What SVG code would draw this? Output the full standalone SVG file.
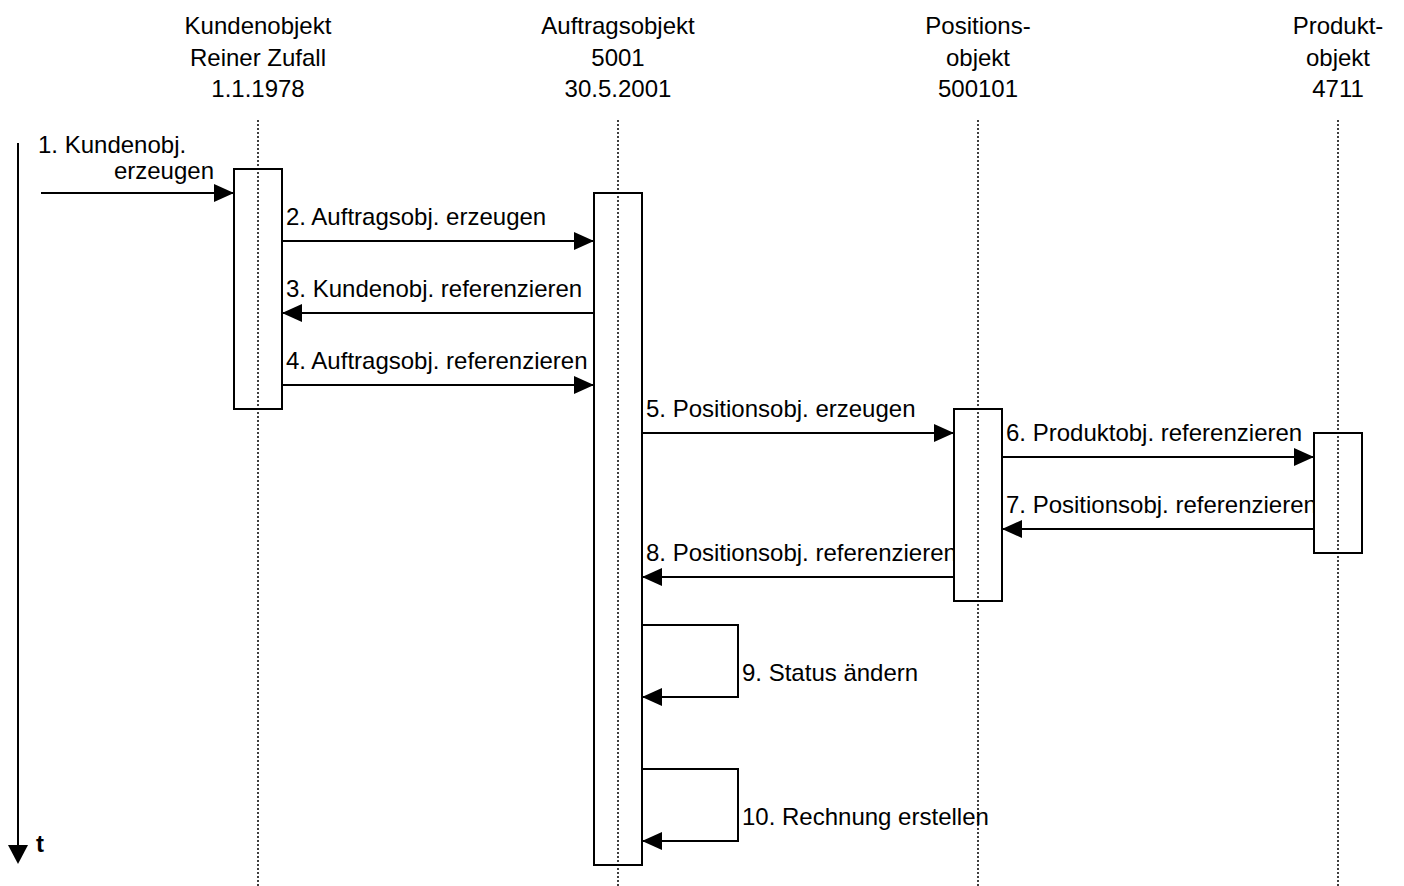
<svg xmlns="http://www.w3.org/2000/svg" width="1404" height="886" viewBox="0 0 1404 886">
  <style>
    .hdr { font-family: "Liberation Sans", Arial, sans-serif; font-size: 24px; fill: #000; text-anchor: middle; }
    .lbl { font-family: "Liberation Sans", Arial, sans-serif; font-size: 24px; fill: #000; }
    .life { stroke: #000; stroke-width: 1.5; stroke-dasharray: 2 2; fill: none; }
    .act { fill: #fff; stroke: #000; stroke-width: 2; }
    .msg { stroke: #000; stroke-width: 2; fill: none; marker-end: url(#head); }
  </style>
  <defs>
    <marker id="head" markerUnits="userSpaceOnUse" markerWidth="20" markerHeight="18" refX="20" refY="9" orient="auto">
      <path d="M0,0 L20,9 L0,18 Z" fill="#000"/>
    </marker>
  </defs>
  <rect width="1404" height="886" fill="#fff"/>

  <!-- time axis -->
  <g id="time-axis">
    <line x1="18" y1="143" x2="18" y2="845" stroke="#000" stroke-width="2"/>
    <path d="M8,845 L28,845 L18,864 Z" fill="#000"/>
    <text x="36" y="852" class="lbl" style="font-weight:bold">t</text>
  </g>

  <!-- message labels -->
  <g id="labels">
    <text x="38" y="153" class="lbl">1. Kundenobj.</text>
    <text x="214" y="179" class="lbl" text-anchor="end">erzeugen</text>
    <text x="286" y="225" class="lbl">2. Auftragsobj. erzeugen</text>
    <text x="286" y="297" class="lbl">3. Kundenobj. referenzieren</text>
    <text x="286" y="369" class="lbl">4. Auftragsobj. referenzieren</text>
    <text x="646" y="417" class="lbl">5. Positionsobj. erzeugen</text>
    <text x="1006" y="441" class="lbl">6. Produktobj. referenzieren</text>
    <text x="1006" y="513" class="lbl">7. Positionsobj. referenzieren</text>
    <text x="646" y="561" class="lbl">8. Positionsobj. referenzieren</text>
    <text x="742" y="681" class="lbl">9. Status ändern</text>
    <text x="742" y="825" class="lbl">10. Rechnung erstellen</text>
  </g>

  <!-- objects: header, activation bar, lifeline -->
  <g id="kundenobjekt">
    <text class="hdr" x="258" y="34">Kundenobjekt</text>
    <text class="hdr" x="258" y="66">Reiner Zufall</text>
    <text class="hdr" x="258" y="97">1.1.1978</text>
    <rect class="act" x="234" y="169" width="48" height="240"/>
    <line class="life" x1="258" y1="120" x2="258" y2="886"/>
  </g>
  <g id="auftragsobjekt">
    <text class="hdr" x="618" y="34">Auftragsobjekt</text>
    <text class="hdr" x="618" y="66">5001</text>
    <text class="hdr" x="618" y="97">30.5.2001</text>
    <rect class="act" x="594" y="193" width="48" height="672"/>
    <line class="life" x1="618" y1="120" x2="618" y2="886"/>
  </g>
  <g id="positionsobjekt">
    <text class="hdr" x="978" y="34">Positions-</text>
    <text class="hdr" x="978" y="66">objekt</text>
    <text class="hdr" x="978" y="97">500101</text>
    <rect class="act" x="954" y="409" width="48" height="192"/>
    <line class="life" x1="978" y1="120" x2="978" y2="886"/>
  </g>
  <g id="produktobjekt">
    <text class="hdr" x="1338" y="34">Produkt-</text>
    <text class="hdr" x="1338" y="66">objekt</text>
    <text class="hdr" x="1338" y="97">4711</text>
    <rect class="act" x="1314" y="433" width="48" height="120"/>
    <line class="life" x1="1338" y1="120" x2="1338" y2="886"/>
  </g>

  <!-- messages -->
  <g id="connectors">
    <line class="msg" x1="41" y1="193" x2="234" y2="193"/>
    <line class="msg" x1="282" y1="241" x2="594" y2="241"/>
    <line class="msg" x1="594" y1="313" x2="282" y2="313"/>
    <line class="msg" x1="282" y1="385" x2="594" y2="385"/>
    <line class="msg" x1="642" y1="433" x2="954" y2="433"/>
    <line class="msg" x1="1002" y1="457" x2="1314" y2="457"/>
    <line class="msg" x1="1314" y1="529" x2="1002" y2="529"/>
    <line class="msg" x1="954" y1="577" x2="642" y2="577"/>
    <polyline class="msg" points="642,625 738,625 738,697 642,697"/>
    <polyline class="msg" points="642,769 738,769 738,841 642,841"/>
  </g>
</svg>
